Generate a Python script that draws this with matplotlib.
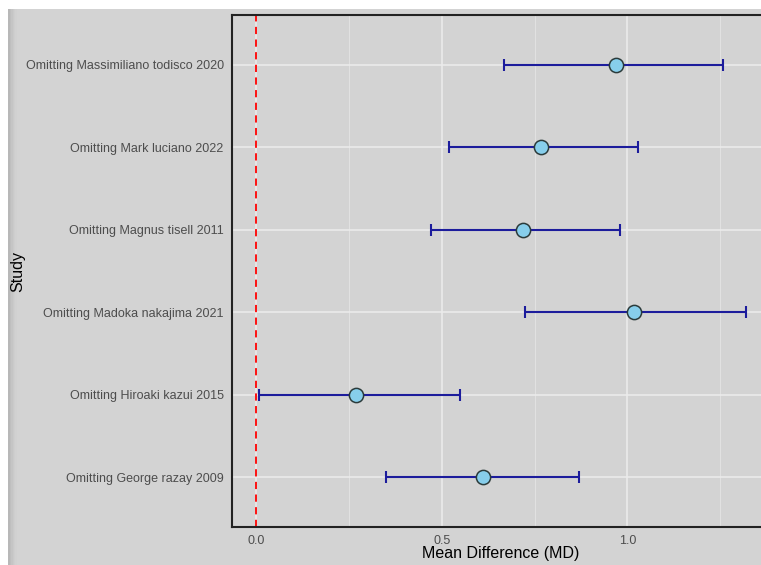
import numpy as np
import matplotlib.pyplot as plt
from matplotlib.patches import Rectangle

plt.rcParams['font.family'] = ['Liberation Sans', 'DejaVu Sans']

studies = ['Omitting George razay 2009', 'Omitting Hiroaki kazui 2015',
           'Omitting Madoka nakajima 2021', 'Omitting Magnus tisell 2011',
           'Omitting Mark luciano 2022', 'Omitting Massimiliano todisco 2020']
md = [0.610, 0.268, 1.019, 0.719, 0.768, 0.970]
lower = [0.349, 0.008, 0.724, 0.470, 0.519, 0.668]
upper = [0.871, 0.550, 1.319, 0.981, 1.030, 1.259]
xticks = [0.0, 0.5, 1.0]
xtick_labels = ['0.0', '0.5', '1.0']

bg = '#d3d3d3'
fig = plt.figure(figsize=(7.61, 5.65), dpi=100, facecolor='white')
# grey plot background (screenshot crop leaves white strip top/left)
fig.patches.append(Rectangle((8 / 761, 0), 1, 1 - 9 / 565, transform=fig.transFigure,
                             facecolor=bg, edgecolor='none', zorder=-10))
# soft shadow on the left edge
for i, c in enumerate(['#b8b8b8', '#bfbfbf', '#c5c5c5', '#cacaca', '#cecece', '#d1d1d1']):
    fig.patches.append(Rectangle(((8 + i * 1.5) / 761, 0), 1.5 / 761, 1 - 9 / 565,
                                 transform=fig.transFigure, facecolor=c,
                                 edgecolor='none', zorder=-9))

ax = fig.add_axes([232 / 761, 38 / 565, 538 / 761, 512 / 565])
ax.set_zorder(5)
ax.set_facecolor(bg)

y = np.arange(1, len(studies) + 1)
err = [np.array(md) - np.array(lower), np.array(upper) - np.array(md)]
ax.errorbar(md, y, xerr=err, fmt='none', ecolor='#1c1c9c', elinewidth=1.5,
            capsize=4, capthick=1.5, zorder=3)
ax.scatter(md, y, s=105, color='#87ceeb', edgecolor='#2b3b3b', linewidth=1.1, zorder=4)
ax.axvline(0, color='red', linestyle=(0, (4, 3)), linewidth=1.3, zorder=2)

ax.set_xlim(-0.066, 1.385)
ax.set_ylim(0.4, 6.6)
ax.set_xticks(xticks)
ax.set_xticklabels(xtick_labels)
ax.set_xticks([0.25, 0.75, 1.25], minor=True)
ax.set_yticks(y)
ax.set_yticklabels(studies)
ax.grid(True, which='major', color='#ececec', linewidth=1.1, zorder=1)
ax.grid(True, which='minor', axis='x', color='#e4e4e4', linewidth=0.6, zorder=1)
ax.set_axisbelow(True)
ax.tick_params(which='both', length=0, labelsize=9, labelcolor='#4d4d4d', pad=6)
for s in ax.spines.values():
    s.set_color('#222222')
    s.set_linewidth(1.5)

ax.set_xlabel('Mean Difference (MD)', fontsize=11.5)
ax.xaxis.set_label_coords(0.5, -0.037)
ax.set_ylabel('Study', fontsize=11.5)
ax.yaxis.set_label_coords(-0.385, 0.5)

fig.savefig('out.png', dpi=100, facecolor='white')
